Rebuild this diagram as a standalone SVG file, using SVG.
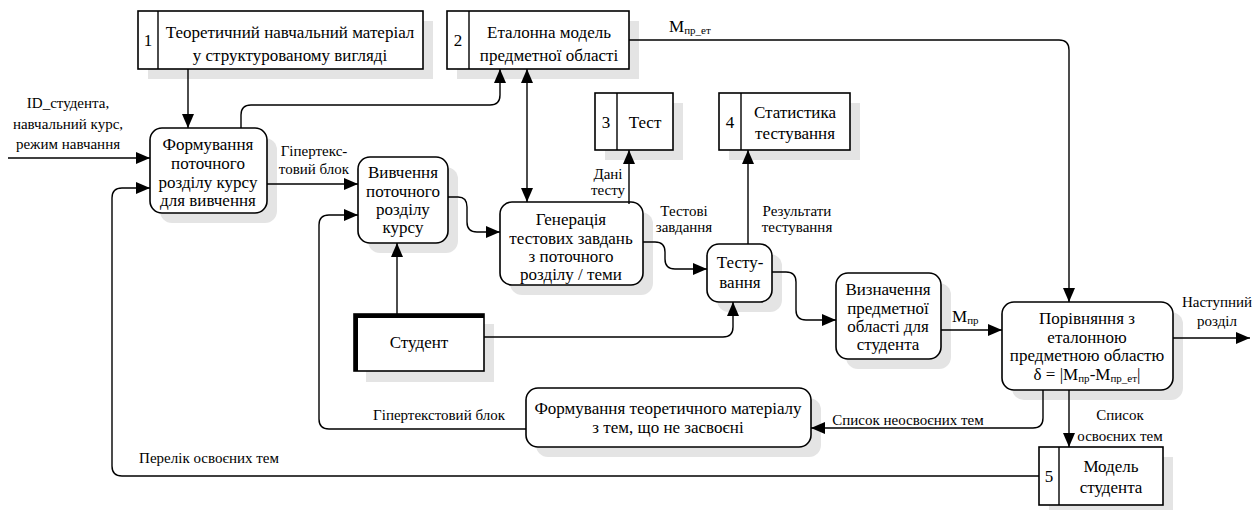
<svg xmlns="http://www.w3.org/2000/svg" width="1259" height="510" viewBox="0 0 1259 510" font-family="Liberation Serif, Times New Roman, DejaVu Serif, serif">
<defs>
<marker id="aR" viewBox="0 0 14 12" markerUnits="userSpaceOnUse" markerWidth="14" markerHeight="12" refX="14" refY="6" orient="0">
<path d="M0,0 L14,6 L0,12 z" fill="#000"/>
</marker>
<marker id="aL" viewBox="0 0 14 12" markerUnits="userSpaceOnUse" markerWidth="14" markerHeight="12" refX="0" refY="6" orient="0">
<path d="M14,0 L0,6 L14,12 z" fill="#000"/>
</marker>
<marker id="aD" viewBox="0 0 12 14" markerUnits="userSpaceOnUse" markerWidth="12" markerHeight="14" refX="6" refY="14" orient="0">
<path d="M0,0 L6,14 L12,0 z" fill="#000"/>
</marker>
<marker id="aU" viewBox="0 0 12 14" markerUnits="userSpaceOnUse" markerWidth="12" markerHeight="14" refX="6" refY="0" orient="0">
<path d="M0,14 L6,0 L12,14 z" fill="#000"/>
</marker>
<style>
.sh{fill:#e4e4e4;stroke:none}
.bx{fill:#fff;stroke:#000;stroke-width:1.6}
.ln{fill:none;stroke:#000;stroke-width:1.4}
.c{fill:none;stroke:#000;stroke-width:1.4}
.r{marker-end:url(#aR)}
.lf{marker-end:url(#aL)}
.d{marker-end:url(#aD)}
.u{marker-end:url(#aU)}
text{font-family:Liberation Serif, Times New Roman, DejaVu Serif, serif;fill:#000}
.t{font-size:17px;text-anchor:middle}
.l{font-size:15px;text-anchor:middle}
</style>
</defs>
<rect width="1259" height="510" fill="#fff"/>

<g id="store1">
<rect class="sh" x="148" y="21" width="285" height="58"/>
<rect class="bx" x="138" y="11" width="285" height="58"/>
<line class="ln" x1="158" y1="11" x2="158" y2="69"/>
<text class="t" x="148" y="46">1</text>
<text class="t"><tspan x="290" y="38">Теоретичний навчальний матеріал</tspan><tspan x="290" y="61">у структурованому вигляді</tspan></text>
</g>

<g id="store2">
<rect class="sh" x="457" y="21" width="182" height="58"/>
<rect class="bx" x="447" y="11" width="182" height="58"/>
<line class="ln" x1="469" y1="11" x2="469" y2="69"/>
<text class="t" x="458" y="46">2</text>
<text class="t"><tspan x="549" y="38">Еталонна модель</tspan><tspan x="549" y="61">предметної області</tspan></text>
</g>

<g id="store3">
<rect class="sh" x="605" y="103" width="78" height="57"/>
<rect class="bx" x="595" y="93" width="78" height="57"/>
<line class="ln" x1="617" y1="93" x2="617" y2="150"/>
<text class="t" x="606" y="128">3</text>
<text class="t" x="645" y="128">Тест</text>
</g>

<g id="store4">
<rect class="sh" x="729" y="103" width="131" height="57"/>
<rect class="bx" x="719" y="93" width="131" height="57"/>
<line class="ln" x1="741" y1="93" x2="741" y2="150"/>
<text class="t" x="730" y="128">4</text>
<text class="t"><tspan x="795" y="118">Статистика</tspan><tspan x="795" y="139">тестування</tspan></text>
</g>

<g id="store5">
<rect class="sh" x="1049" y="457" width="124" height="53"/>
<rect class="bx" x="1039" y="447" width="124" height="58"/>
<line class="ln" x1="1059" y1="447" x2="1059" y2="505"/>
<text class="t" x="1049" y="482">5</text>
<text class="t"><tspan x="1111" y="472">Модель</tspan><tspan x="1111" y="493">студента</tspan></text>
</g>

<g id="p_form">
<rect class="sh" x="160" y="138" width="117" height="85" rx="12"/>
<rect class="bx" x="150" y="128" width="117" height="85" rx="12"/>
<text class="t"><tspan x="208" y="150">Формування</tspan><tspan x="208" y="169">поточного</tspan><tspan x="208" y="188">розділу курсу</tspan><tspan x="208" y="206">для вивчення</tspan></text>
</g>

<g id="p_study">
<rect class="sh" x="368" y="167" width="90" height="86" rx="12"/>
<rect class="bx" x="358" y="157" width="90" height="86" rx="12"/>
<text class="t"><tspan x="403" y="178">Вивчення</tspan><tspan x="403" y="197">поточного</tspan><tspan x="403" y="215">розділу</tspan><tspan x="403" y="233">курсу</tspan></text>
</g>

<g id="p_gen">
<rect class="sh" x="510" y="212" width="143" height="83" rx="12"/>
<rect class="bx" x="500" y="202" width="143" height="83" rx="12"/>
<text class="t"><tspan x="571" y="225">Генерація</tspan><tspan x="571" y="244">тестових завдань</tspan><tspan x="571" y="262">з поточного</tspan><tspan x="571" y="280">розділу / теми</tspan></text>
</g>

<g id="p_test">
<rect class="sh" x="717" y="254" width="65" height="58" rx="12"/>
<rect class="bx" x="707" y="244" width="65" height="58" rx="12"/>
<text class="t"><tspan x="740" y="268">Тесту-</tspan><tspan x="740" y="288">вання</tspan></text>
</g>

<g id="p_def">
<rect class="sh" x="846" y="283" width="105" height="86" rx="12"/>
<rect class="bx" x="836" y="273" width="105" height="86" rx="12"/>
<text class="t"><tspan x="888" y="295">Визначення</tspan><tspan x="888" y="314">предметної</tspan><tspan x="888" y="332">області для</tspan><tspan x="888" y="350">студента</tspan></text>
</g>

<g id="p_cmp">
<rect class="sh" x="1012" y="312" width="171" height="88" rx="12"/>
<rect class="bx" x="1002" y="302" width="171" height="88" rx="12"/>
<text class="t"><tspan x="1087" y="324">Порівняння з</tspan><tspan x="1087" y="343">еталонною</tspan><tspan x="1087" y="361">предметною областю</tspan><tspan x="1087" y="380">δ = |M<tspan font-size="11" dy="2">пр</tspan><tspan dy="-2">-M</tspan><tspan font-size="11" dy="2">пр_ет</tspan><tspan dy="-2">|</tspan></tspan></text>
</g>

<g id="p_theory">
<rect class="sh" x="536" y="398" width="285" height="59" rx="12"/>
<rect class="bx" x="526" y="388" width="285" height="59" rx="12"/>
<text class="t"><tspan x="668" y="414">Формування теоретичного матеріалу</tspan><tspan x="668" y="433">з тем, що не засвоєні</tspan></text>
</g>

<g id="student">
<rect class="sh" x="366" y="324" width="128" height="58"/>
<rect class="bx" x="354" y="314" width="130" height="57"/>
<path d="M356,371 V316 H484" fill="none" stroke="#000" stroke-width="4"/>
<text class="t" x="419" y="348">Студент</text>
</g>

<g id="connectors">
<path class="c r" d="M8,158 H150"/>
<path class="c d" d="M188,69 V128"/>
<path class="c u" d="M241,128 V115 Q241,105 251,105 H490 Q500,105 500,95 V69"/>
<path class="c d" style="marker-start:url(#aU)" d="M527,69 V202"/>
<path class="c r" d="M267,184 H358"/>
<path class="c r" d="M1039,476 H122 Q112,476 112,466 V198 Q112,188 122,188 H150"/>
<path class="c r" d="M526,429 H329 Q319,429 319,419 V225 Q319,215 329,215 H358"/>
<path class="c u" d="M397,314 V243"/>
<path class="c r" d="M448,197 H458 Q467,197 467,207 V222 Q467,232 477,232 H500"/>
<path class="c u" d="M629,204 V150"/>
<path class="c r" d="M643,242 H655 Q665,242 665,252 V259 Q665,269 675,269 H707"/>
<path class="c u" d="M748,244 V150"/>
<path class="c u" d="M484,337 H723 Q733,337 733,327 V302"/>
<path class="c r" d="M772,272 H786 Q796,272 796,282 V310 Q796,320 806,320 H836"/>
<path class="c r" d="M941,330 H1002"/>
<path class="c d" d="M629,40 H1059 Q1069,40 1069,50 V302"/>
<path class="c r" d="M1173,338 H1250"/>
<path class="c d" d="M1069,390 V447"/>
<path class="c lf" d="M1043,390 V418 Q1043,428 1033,428 H811"/>
<text class="l"><tspan x="68" y="108">ID_студента,</tspan><tspan x="68" y="129">навчальний курс,</tspan><tspan x="68" y="149">режим навчання</tspan></text>
<text class="l"><tspan x="314" y="156">Гіпертекс-</tspan><tspan x="314" y="174">товий блок</tspan></text>
<text class="l" x="209" y="463">Перелік освоєних тем</text>
<text class="l" x="439" y="420">Гіпертекстовий блок</text>
<text class="l"><tspan x="608" y="179">Дані</tspan><tspan x="608" y="195">тесту</tspan></text>
<text class="l"><tspan x="684" y="216">Тестові</tspan><tspan x="684" y="232">завдання</tspan></text>
<text class="l"><tspan x="797" y="216">Результати</tspan><tspan x="797" y="232">тестування</tspan></text>
<text font-size="17" x="952" y="322">M<tspan font-size="11" dy="2">пр</tspan></text>
<text font-size="17" x="669" y="32">M<tspan font-size="11" dy="2">пр_ет</tspan></text>
<text class="l"><tspan x="1217" y="307">Наступний</tspan><tspan x="1217" y="326">розділ</tspan></text>
<text class="l"><tspan x="1120" y="420">Список</tspan><tspan x="1120" y="441">освоєних тем</tspan></text>
<text class="l" x="908" y="425">Список неосвоєних тем</text>
</g>
</svg>
